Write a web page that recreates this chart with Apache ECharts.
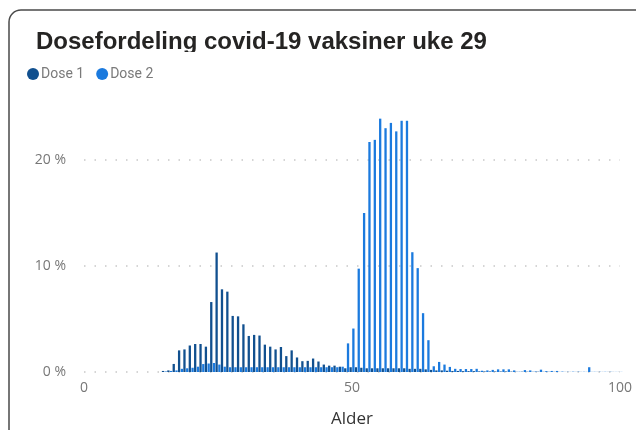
<!DOCTYPE html>
<html>
<head>
<meta charset="utf-8">
<script src="https://cdn.jsdelivr.net/npm/echarts@6/dist/echarts.min.js"></script>
<style>
html,body{margin:0;padding:0;background:#fff;overflow:hidden;}
#chart{width:636px;height:430px;}
</style>
</head>
<body>
<div id="chart"></div>
<script>
// Ages (x values)
var ages = [15,16,17,18,19,20,21,22,23,24,25,26,27,28,29,30,31,32,33,34,35,36,37,38,39,40,
  41,42,43,44,45,46,47,48,49,50,51,52,53,54,55,56,57,58,59,60,61,62,63,64,65,66,67,68,69,70,
  71,72,73,74,75,76,77,78,79,80,81,82,83,84,85,86,87,88,89,90,91,92,93,94,95,96,97,98,99,100];
// Dose 1 share (%)
var dose1 = [0.1,0.15,0.76,2.04,2.13,2.5,2.64,2.64,2.39,6.6,11.27,7.8,7.58,5.29,5.25,4.5,3.4,3.5,3.44,2.58,
  2.39,2.13,2.36,1.5,2.04,1.37,1.02,1.05,1.27,0.99,0.7,0.6,0.6,0.5,0.35,0.45,0.45,0.4,0.35,0.35,
  0.35,0.35,0.35,0.35,0.35,0.35,0.3,0.3,0.3,0.25,0.2,0.15,0.15,0.12,0.1,0.1,
  0.08,0.08,0.08,0.06,0.05,0.05,0.05,0.05,0.05,0.04,0.02,0.03,0.03,0.02,0.03,0.02,0.02,0.02,0.01,0.01,
  0.01,0.01,0.01,0.01,0.01,0.01,0.01,0.01,0.01,0.01];
// Dose 2 share (%)
var dose2 = [0.05,0.1,0.15,0.3,0.35,0.4,0.5,0.75,0.8,0.85,0.7,0.5,0.45,0.45,0.45,0.45,0.45,0.45,0.45,0.45,
  0.45,0.45,0.45,0.45,0.45,0.45,0.45,0.45,0.45,0.45,0.45,0.45,0.45,0.5,2.7,4.1,9.75,15.0,21.7,21.9,
  23.9,23.0,23.5,22.7,23.7,23.7,11.3,9.8,5.55,3.0,0.54,0.95,0.7,0.48,0.3,0.28,
  0.28,0.28,0.3,0.12,0.15,0.2,0.25,0.25,0.25,0.15,0.03,0.18,0.15,0.05,0.22,0.08,0.1,0.1,0.04,0.02,
  0.03,0.03,0.02,0.45,0.02,0.02,0.02,0.02,0.01,0.01];
// Axis ticks
var xTicks = [0, 50, 100];
var yTicks = [0, 10, 20];

var chart = echarts.init(document.getElementById('chart'), null, {renderer: 'canvas'});
function pairs(vals){ return ages.map(function(a,i){ return [a, vals[i]]; }); }
var gridColor = '#c8c8c8';
chart.setOption({
  animation: false,
  backgroundColor: '#ffffff',
  title: {
    text: 'Dosefordeling covid-19 vaksiner uke 29',
    left: 36, top: 30, padding: 0,
    textStyle: {fontFamily: 'Liberation Sans, Arial, sans-serif', fontSize: 24, fontWeight: 'bold', color: '#252423'}
  },
  legend: {
    left: 27, top: 67, padding: 0,
    icon: 'circle', itemWidth: 12, itemHeight: 12, itemGap: 12,
    textStyle: {fontFamily: 'Roboto, sans-serif', fontSize: 14, color: '#7a7a7a', padding: [0,0,0,-3]},
    data: ['Dose 1', 'Dose 2']
  },
  grid: {left: 84, right: 16, top: 107, bottom: 58, containLabel: false, outerBoundsMode: 'none'},
  xAxis: {
    type: 'value', min: xTicks[0], max: xTicks[xTicks.length-1], interval: 50,
    name: 'Alder', nameLocation: 'middle', nameGap: 39,
    nameTextStyle: {fontFamily: 'Open Sans, sans-serif', fontSize: 17, color: '#333333'},
    axisLine: {show: false}, axisTick: {show: false}, splitLine: {show: false},
    axisLabel: {fontFamily: 'Open Sans, sans-serif', fontSize: 14, color: '#777777', margin: 9}
  },
  yAxis: {
    type: 'value', min: 0, max: 25, interval: 10,
    axisLine: {show: false}, axisTick: {show: false},
    axisLabel: {fontFamily: 'Open Sans, sans-serif', fontSize: 14, color: '#777777', margin: 18,
      showMaxLabel: false,
      formatter: function(v){ return yTicks.indexOf(v) >= 0 ? v + ' %' : ''; }},
    splitLine: {show: true, lineStyle: {type: [1.5, 9], width: 1.5,
      color: [gridColor, gridColor, gridColor, 'rgba(0,0,0,0)']}}
  },
  series: [
    {name: 'Dose 1', type: 'bar', data: pairs(dose1), barWidth: 2.3, barGap: '20%',
     itemStyle: {color: '#11508f'}},
    {name: 'Dose 2', type: 'bar', data: pairs(dose2), barWidth: 2.3,
     itemStyle: {color: '#1b7ade'}}
  ],
  graphic: [
    {type: 'rect', z: 100, shape: {x: 30, y: 52, width: 500, height: 8}, style: {fill: '#ffffff'}},
    {type: 'rect', z: 101, shape: {x: 9, y: 10, width: 900, height: 700, r: 12},
     style: {fill: 'none', stroke: '#4a4a4a', lineWidth: 1.5}}
  ]
});
</script>
</body>
</html>
